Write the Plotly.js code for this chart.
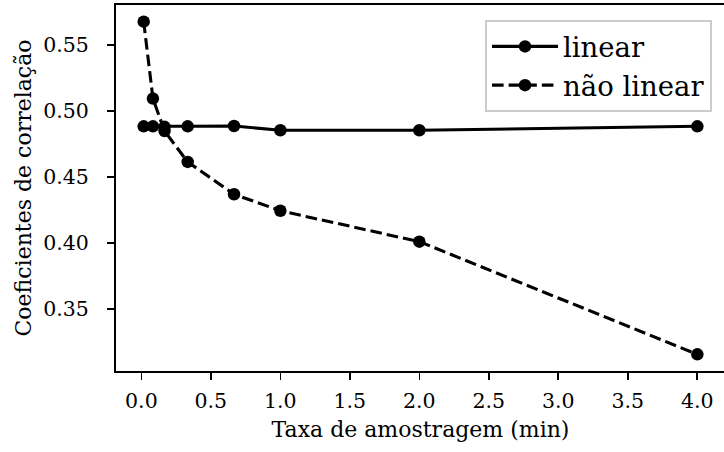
<!DOCTYPE html>
<html><head><meta charset="utf-8">
<script src="https://cdn.plot.ly/plotly-3.0.1.min.js"></script>
<style>html,body{margin:0;padding:0;overflow:hidden;background:#fff}</style>
</head><body><div id="chart" style="width:730px;height:452px"></div>
<script>
const taxa = [0.0167, 0.0833, 0.1667, 0.3333, 0.6667, 1.0, 2.0, 4.0];
const linear = [0.4884, 0.4884, 0.4880, 0.4884, 0.4886, 0.4854, 0.4854, 0.4884];
const naoLinear = [0.5677, 0.5094, 0.4848, 0.4614, 0.4369, 0.4244, 0.4010, 0.3156];
const seriesNames = ['linear', 'não linear'];
const xTitle = 'Taxa de amostragem (min)';
const yTitle = 'Coeficientes de correlação';
const FONT = "'DejaVu Serif', 'Liberation Serif', serif";

const traces = [
  {x: taxa, y: linear, name: seriesNames[0], mode: 'lines+markers',
   line: {color: '#000', width: 3.1}, marker: {color: '#000', size: 12.5}},
  {x: taxa, y: naoLinear, name: seriesNames[1], mode: 'lines+markers',
   line: {color: '#000', width: 3.1, dash: '11.6px,5px'}, marker: {color: '#000', size: 12.5}}
];
const axisCommon = {
  showline: true, mirror: true, linecolor: '#000', linewidth: 2,
  ticks: 'outside', ticklen: 7, tickwidth: 1.7, tickcolor: '#000',
  showgrid: false, zeroline: false, automargin: false,
  tickfont: {family: FONT, size: 20.5, color: '#000'}
};
const layout = {
  width: 730, height: 452,
  margin: {l: 116, r: 5, t: 5, b: 81},
  paper_bgcolor: '#fff', plot_bgcolor: '#fff',
  font: {family: FONT, size: 18, color: '#000'},
  showlegend: true,
  legend: {x: 0.9787, xanchor: 'right', y: 0.959, yanchor: 'top',
    bgcolor: '#fff', bordercolor: '#cccccc', borderwidth: 2, itemwidth: 66,
    font: {family: FONT, size: 27.5, color: '#000'}},
  xaxis: Object.assign({}, axisCommon, {
    range: [-0.1825, 4.199], tick0: 0, dtick: 0.5, tickformat: '.1f',
    ticklabelstandoff: 3,
    title: {text: xTitle, standoff: 10}
  }),
  yaxis: Object.assign({}, axisCommon, {
    range: [0.3030, 0.5803], tick0: 0.35, dtick: 0.05, tickformat: '.2f',
    ticklabelstandoff: 14,
    title: {text: yTitle, standoff: 6}
  })
};
Plotly.newPlot('chart', traces, layout, {staticPlot: true, displayModeBar: false});
</script></body></html>
